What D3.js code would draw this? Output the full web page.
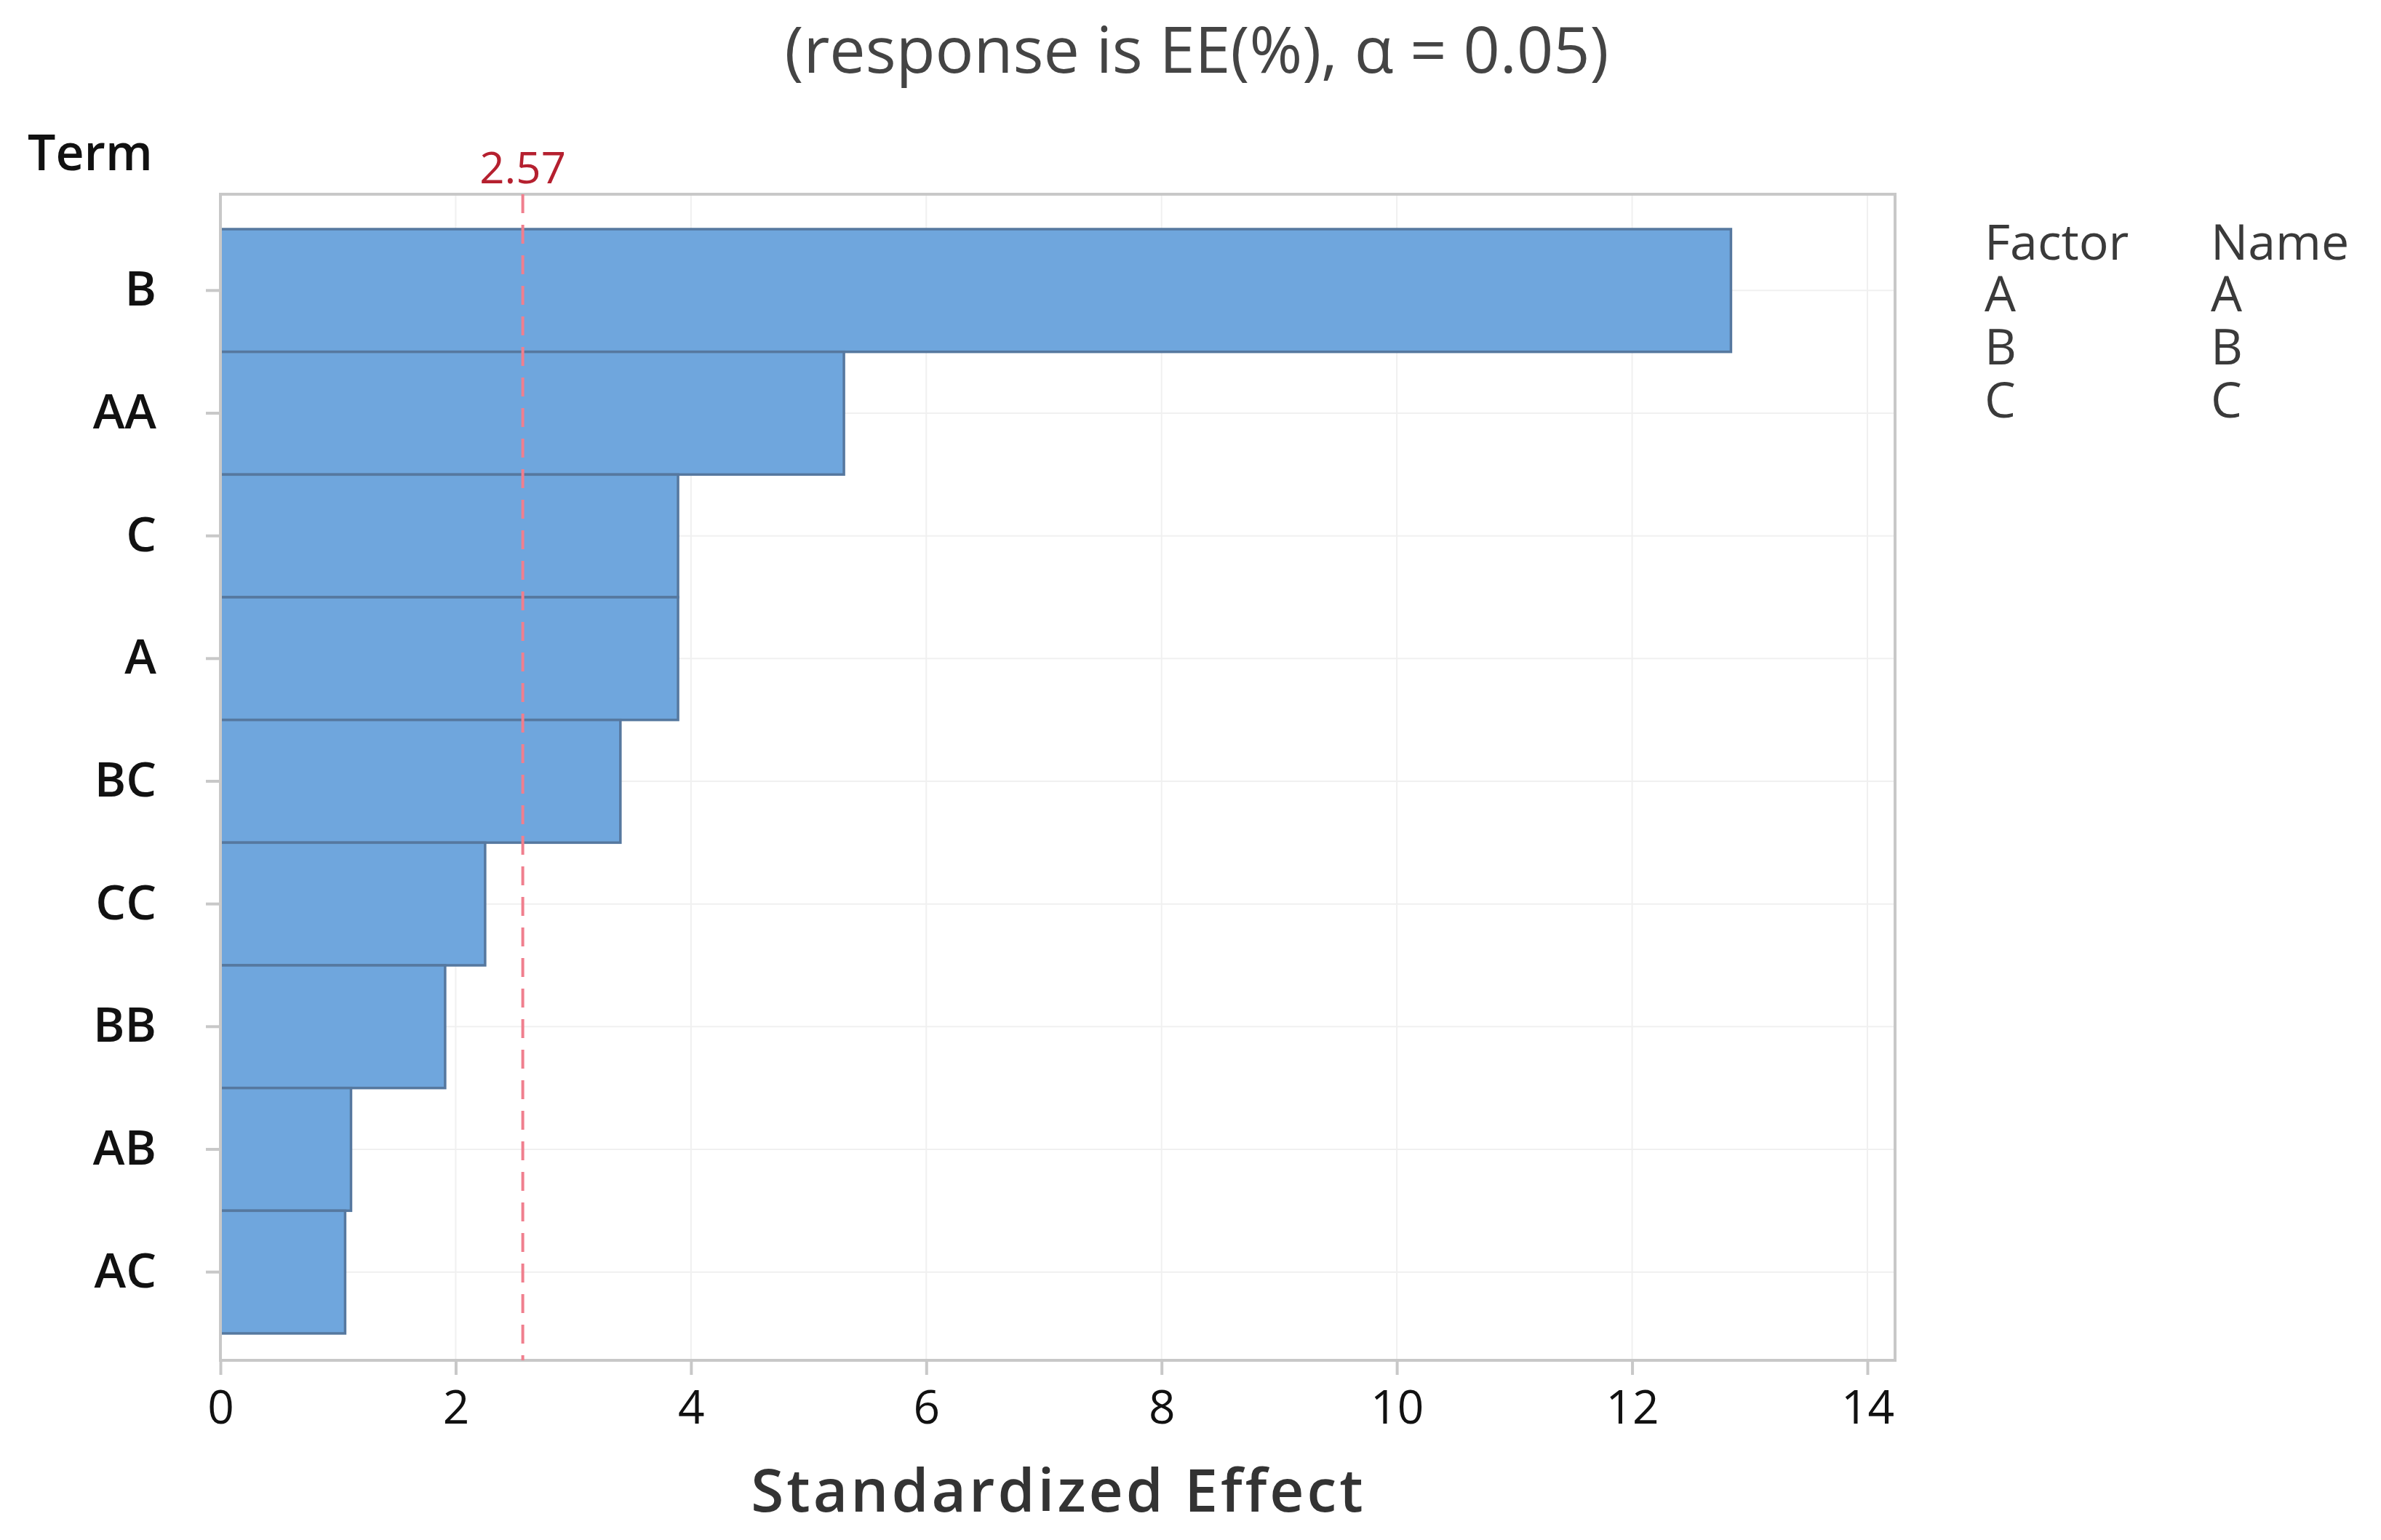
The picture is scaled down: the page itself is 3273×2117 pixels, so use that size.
<!DOCTYPE html>
<html>
<head>
<meta charset="utf-8">
<script src="https://cdn.jsdelivr.net/npm/d3@7"></script>
<style>
html,body{margin:0;padding:0;background:#fff;}
svg{display:block;}
text{font-family:"Open Sans","Noto Sans",sans-serif;}
</style>
</head>
<body>
<script>
const terms = ["B","AA","C","A","BC","CC","BB","AB","AC"];
const effects = [12.84, 5.30, 3.89, 3.89, 3.40, 2.25, 1.91, 1.11, 1.06];
const xTicks = [0,2,4,6,8,10,12,14];
const critical = 2.57;
const legendFactors = ["A","B","C"];
const legendNames = ["A","B","C"];
const titleText = "(response is EE(%), \u03b1 = 0.05)";

const W = 3273, H = 2117;
const frame = {left:303, right:2605, top:267, bottom:1870};

const svg = d3.select("body").append("svg").attr("width",W).attr("height",H);

const x = d3.scaleLinear().domain([0,14]).range([303, 2567]);
const y = d3.scaleBand().domain(terms).range([315, 1833]).padding(0);

// grid
svg.append("g").selectAll("line.vg").data(xTicks).join("line")
  .attr("x1",d=>x(d)).attr("x2",d=>x(d))
  .attr("y1",frame.top).attr("y2",frame.bottom)
  .attr("stroke","#f0f0f0").attr("stroke-width",2);
svg.append("g").selectAll("line.hg").data(terms).join("line")
  .attr("x1",frame.left).attr("x2",frame.right)
  .attr("y1",d=>y(d)+y.bandwidth()/2).attr("y2",d=>y(d)+y.bandwidth()/2)
  .attr("stroke","#f0f0f0").attr("stroke-width",2);

// bars
svg.append("g").selectAll("rect").data(terms).join("rect")
  .attr("x",x(0))
  .attr("y",d=>y(d))
  .attr("width",(d,i)=>x(effects[i])-x(0))
  .attr("height",y.bandwidth())
  .attr("fill","#6fa6dd")
  .attr("stroke","#56789f")
  .attr("stroke-width",3.5);

// frame
svg.append("rect")
  .attr("x",frame.left).attr("y",frame.top)
  .attr("width",frame.right-frame.left).attr("height",frame.bottom-frame.top)
  .attr("fill","none").attr("stroke","#c8c8c8").attr("stroke-width",4);

// reference line
svg.append("line")
  .attr("x1",x(critical)).attr("x2",x(critical))
  .attr("y1",frame.top).attr("y2",frame.bottom)
  .attr("stroke","#f07f8e").attr("stroke-width",4)
  .attr("stroke-dasharray","26,16");
svg.append("text")
  .attr("x",x(critical)).attr("y",252)
  .attr("text-anchor","middle")
  .attr("font-size",60).attr("font-weight",500).attr("fill","#b5202f")
  .text(critical.toFixed(2));

// x axis
const xAxis = d3.axisBottom(x).tickValues(xTicks).tickSize(20).tickPadding(22).tickFormat(d3.format("d"));
const gx = svg.append("g").attr("transform",`translate(0,${frame.bottom})`).call(xAxis);
gx.select(".domain").remove();
gx.selectAll(".tick line").attr("stroke","#c8c8c8").attr("stroke-width",4);
gx.selectAll(".tick text").attr("font-size",64).attr("font-weight",500).attr("fill","#111")
  .attr("font-family","'Open Sans',sans-serif");

// y axis
const yAxis = d3.axisLeft(y).tickSize(20).tickPadding(68);
const gy = svg.append("g").attr("transform",`translate(${frame.left},0)`).call(yAxis);
gy.select(".domain").remove();
gy.selectAll(".tick line").attr("stroke","#c8c8c8").attr("stroke-width",4);
gy.selectAll(".tick text").attr("font-size",66).attr("fill","#111").attr("font-weight",600)
  .attr("font-family","'Open Sans',sans-serif");

// titles
svg.append("text").attr("x",1645).attr("y",100).attr("text-anchor","middle")
  .attr("font-size",88).attr("font-weight",500).attr("fill","#444").text(titleText);
svg.append("text").attr("x",38).attr("y",234).attr("font-size",68).attr("font-weight",600)
  .attr("fill","#111").text("Term");
svg.append("text").attr("x",1455).attr("y",2078).attr("text-anchor","middle")
  .attr("font-size",82).attr("font-weight",600).attr("letter-spacing",4).attr("fill","#333")
  .text("Standardized Effect");

// legend
const lg = svg.append("g").attr("fill","#3a3a3a").attr("font-size",68).attr("font-weight",500);
lg.append("text").attr("x",2728).attr("y",357).text("Factor");
lg.append("text").attr("x",3039).attr("y",357).text("Name");
lg.selectAll("text.f").data(legendFactors).join("text").attr("class","f")
  .attr("x",2728).attr("y",(d,i)=>428+i*73).text(d=>d);
lg.selectAll("text.n").data(legendNames).join("text").attr("class","n")
  .attr("x",3039).attr("y",(d,i)=>428+i*73).text(d=>d);
</script>
</body>
</html>
